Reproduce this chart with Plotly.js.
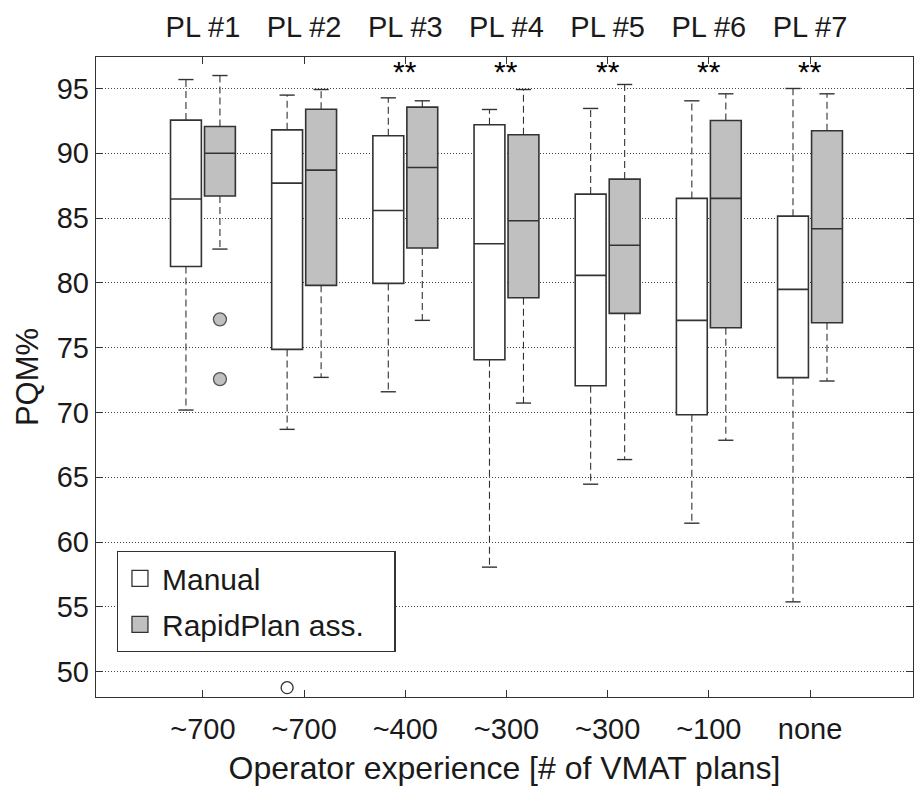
<!DOCTYPE html>
<html>
<head>
<meta charset="utf-8">
<script src="https://cdn.plot.ly/plotly-3.0.1.min.js"></script>
<style>html,body{margin:0;padding:0;background:#fff;}#chart{width:914px;height:788px;}</style>
</head>
<body>
<div id="chart"></div>
<script>
// ---- data ----
const planners = ["PL #1", "PL #2", "PL #3", "PL #4", "PL #5", "PL #6", "PL #7"];
const experience = ["~700", "~700", "~400", "~300", "~300", "~100", "none"];
const seriesNames = ["Manual", "RapidPlan ass."];

const manualLow    = [70.19, 68.70, 71.60, 58.07, 64.47, 61.46, 55.39];
const manualQ1     = [81.27, 74.87, 79.96, 74.07, 72.07, 69.83, 72.69];
const manualMedian = [86.47, 87.70, 85.59, 83.02, 80.58, 77.11, 79.50];
const manualQ3     = [92.56, 91.81, 91.35, 92.20, 86.85, 86.52, 85.15];
const manualHigh   = [95.69, 94.49, 94.28, 93.38, 93.46, 94.05, 95.00];

const rapidLow     = [82.61, 72.71, 77.11, 70.73, 66.37, 67.86, 72.43];
const rapidQ1      = [86.70, 79.81, 82.69, 78.86, 77.65, 76.54, 76.93];
const rapidMedian  = [90.00, 88.70, 88.91, 84.79, 82.90, 86.52, 84.18];
const rapidQ3      = [92.07, 93.40, 93.56, 91.43, 88.01, 92.53, 91.74];
const rapidHigh    = [96.00, 94.92, 94.05, 94.92, 95.31, 94.59, 94.59];

const manualOutlierGroup = [2];
const manualOutliers     = [48.77];
const rapidOutlierGroup  = [1, 1];
const rapidOutliers      = [77.19, 72.58];

const significant = [false, false, true, true, true, true, true];
const sigLabel = "**";

// ---- styling / layout helpers ----
const FONT = "Liberation Sans, Arial, Helvetica, sans-serif";
const TXT = "#1a1a1a";
const EDGE = "#333333";
const GRAYFILL = "#c0c0c0";
const OFFSET = 0.168, BOXW = 0.305, CAPW = 0.075;
const PAD = "\u00a0\u00a0\u00a0"; // right padding inside the legend frame
const groupPos = planners.map((_, i) => i + 1);
const manualPos = groupPos.map(g => g - OFFSET);
const rapidPos = groupPos.map(g => g + OFFSET);

function whiskerTrace(pos, lo, q1, q3, hi) {
  const x = [], y = [];
  pos.forEach((p, i) => {
    x.push(p, p, null, p, p, null);
    y.push(q3[i], hi[i], null, q1[i], lo[i], null);
  });
  return {type: "scatter", mode: "lines", x, y, showlegend: false, hoverinfo: "skip",
          line: {color: EDGE, width: 1.1, dash: "7px,4px"}};
}
function capTrace(pos, lo, hi) {
  const x = [], y = [];
  pos.forEach((p, i) => {
    x.push(p - CAPW, p + CAPW, null, p - CAPW, p + CAPW, null);
    y.push(hi[i], hi[i], null, lo[i], lo[i], null);
  });
  return {type: "scatter", mode: "lines", x, y, showlegend: false, hoverinfo: "skip",
          line: {color: EDGE, width: 1.4}};
}
function boxTrace(pos, q1, med, q3, fill) {
  return {type: "box", x: pos, q1: q1, median: med, q3: q3,
          lowerfence: q1, upperfence: q3, width: BOXW, whiskerwidth: 0,
          boxpoints: false, fillcolor: fill, line: {color: EDGE, width: 1.6},
          showlegend: false, hoverinfo: "skip"};
}

const traces = [
  whiskerTrace(manualPos, manualLow, manualQ1, manualQ3, manualHigh),
  whiskerTrace(rapidPos, rapidLow, rapidQ1, rapidQ3, rapidHigh),
  capTrace(manualPos, manualLow, manualHigh),
  capTrace(rapidPos, rapidLow, rapidHigh),
  boxTrace(manualPos, manualQ1, manualMedian, manualQ3, "#ffffff"),
  boxTrace(rapidPos, rapidQ1, rapidMedian, rapidQ3, GRAYFILL),
  {type: "scatter", mode: "markers", x: manualOutlierGroup.map(g => g - OFFSET), y: manualOutliers,
   marker: {size: 12, color: "#ffffff", line: {color: EDGE, width: 1.3}}, showlegend: false, hoverinfo: "skip"},
  {type: "scatter", mode: "markers", x: rapidOutlierGroup.map(g => g + OFFSET), y: rapidOutliers,
   marker: {size: 13, color: GRAYFILL, line: {color: "#555", width: 1.3}}, showlegend: false, hoverinfo: "skip"},
  // legend entries
  {type: "scatter", mode: "markers", x: [null], y: [null], name: seriesNames[0], legendgroup: "a",
   marker: {symbol: "square", size: 20, color: "#ffffff", line: {color: EDGE, width: 1.3}}},
  {type: "scatter", mode: "markers", x: [null], y: [null], name: seriesNames[1] + PAD, legendgroup: "b",
   marker: {symbol: "square", size: 20, color: GRAYFILL, line: {color: EDGE, width: 1.3}}},
  // top axis carrier
  {type: "scatter", mode: "markers", x: [null], y: [null], xaxis: "x2", showlegend: false, hoverinfo: "skip"}
];

const annotations = [];
groupPos.forEach((g, i) => {
  if (significant[i]) annotations.push({x: g, y: 96.3, xref: "x", yref: "y", text: sigLabel,
    showarrow: false, xanchor: "center", yanchor: "middle", font: {family: FONT, size: 30, color: "#000"}});
});

const XR = [-0.057, 8.018];
const layout = {
  width: 914, height: 788,
  margin: {l: 96, r: 1, t: 57, b: 91},
  paper_bgcolor: "#ffffff", plot_bgcolor: "#ffffff",
  font: {family: FONT, size: 29, color: TXT},
  boxmode: "overlay",
  showlegend: true,
  legend: {x: 0.0253, y: 0.228, xanchor: "left", yanchor: "top", bgcolor: "#ffffff",
           bordercolor: EDGE, borderwidth: 1.3, font: {family: FONT, size: 30, color: TXT},
           tracegroupgap: 4, itemsizing: "trace", itemwidth: 34},
  xaxis: {range: XR, tickvals: groupPos, ticktext: experience, ticks: "inside", ticklen: 7,
          tickcolor: EDGE, showline: true, linecolor: EDGE, linewidth: 1.3, mirror: true,
          showgrid: false, zeroline: false, tickfont: {family: FONT, size: 29, color: TXT},
          ticklabelstandoff: 6,
          title: {text: "Operator experience [# of VMAT plans]", font: {family: FONT, size: 32, color: TXT}, standoff: 12}},
  xaxis2: {range: XR, overlaying: "x", side: "top", tickvals: groupPos, ticktext: planners,
           ticks: "inside", ticklen: 7, tickcolor: EDGE, showline: false, showgrid: false, zeroline: false,
           ticklabelstandoff: 13, tickfont: {family: FONT, size: 29, color: TXT}},
  yaxis: {range: [48.05, 97.43], tickvals: [50, 55, 60, 65, 70, 75, 80, 85, 90, 95],
          ticks: "inside", ticklen: 7, tickcolor: EDGE, showline: true, linecolor: EDGE, linewidth: 1.3,
          mirror: "ticks", showgrid: true, gridcolor: "#444", griddash: "1px,2px", gridwidth: 1,
          zeroline: false, tickfont: {family: FONT, size: 29, color: TXT},
          title: {text: "PQM%", font: {family: FONT, size: 31, color: TXT}, standoff: 8}},
  annotations: annotations
};

Plotly.newPlot("chart", traces, layout, {staticPlot: true, displayModeBar: false});
</script>
</body>
</html>
